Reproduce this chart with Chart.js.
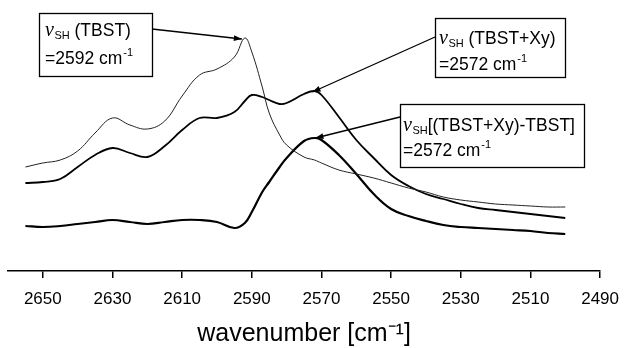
<!DOCTYPE html>
<html><head><meta charset="utf-8">
<script src="https://cdn.jsdelivr.net/npm/chart.js@4/dist/chart.umd.min.js"></script>
<style>html,body{margin:0;padding:0;background:#fff}</style>
</head><body>
<canvas id="c" width="630" height="348"></canvas>
<script>
// wavenumber (cm-1)
const wavenumbers = [2655,2650,2645,2640,2635,2630,2625,2620,2615,2610,2605,2600,2595,2592,2590,2587,2585,2582,2580,2575,2572,2570,2565,2560,2555,2550,2545,2540,2535,2530,2525,2520,2515,2510,2505,2500];
// absorbance (a.u.), TBST
const tbst = [1.04,1.08,1.11,1.20,1.38,1.53,1.46,1.42,1.50,1.75,1.96,2.02,2.14,2.33,2.19,1.84,1.58,1.36,1.26,1.14,1.11,1.08,1.01,0.97,0.93,0.88,0.83,0.79,0.74,0.71,0.69,0.67,0.66,0.65,0.64,0.64];
// absorbance (a.u.), TBST+Xy
const tbstXy = [0.88,0.89,0.92,1.04,1.16,1.23,1.18,1.14,1.25,1.41,1.53,1.53,1.59,1.70,1.76,1.74,1.71,1.67,1.68,1.77,1.80,1.76,1.54,1.31,1.13,0.96,0.85,0.77,0.72,0.67,0.63,0.61,0.59,0.57,0.55,0.53];
// difference (TBST+Xy)-TBST
const difference = [0.45,0.44,0.45,0.47,0.49,0.51,0.49,0.47,0.49,0.51,0.51,0.49,0.43,0.48,0.59,0.79,0.89,1.04,1.13,1.30,1.33,1.31,1.16,0.97,0.77,0.62,0.55,0.50,0.46,0.44,0.43,0.42,0.41,0.40,0.38,0.37];
const tickLabels = [2650,2630,2610,2590,2570,2550,2530,2510,2490];
const xTitle = 'wavenumber [cm\u207B\u00B9]';
const peakLabels = [
  {series:0, peak:2592, text1:' (TBST)', text2:'=2592 cm'},
  {series:1, peak:2572, text1:' (TBST+Xy)', text2:'=2572 cm'},
  {series:2, peak:2572, text1:'[(TBST+Xy)-TBST]', text2:'=2572 cm'}
];

// layout of annotation boxes (pixels)
const boxLayout = [
  {l:39,t:13,r:152,b:76, tx:45, b1:36, b2:64, from:[152,29], dx:-3, dy:1},
  {l:435,t:18,r:565,b:77, tx:439, b1:44, b2:70, from:[435,37], dx:-2, dy:1},
  {l:400,t:104,r:584,b:167, tx:403, b1:131, b2:156, from:[400,117], dx:1, dy:0}
];

const annoPlugin = {
  id:'anno',
  afterDatasetsDraw(chart){
    const ctx = chart.ctx, xs = chart.scales.x, ys = chart.scales.y;
    const series = [tbst, tbstXy, difference];
    ctx.save();
    peakLabels.forEach((p,i)=>{
      const L = boxLayout[i];
      const idx = wavenumbers.indexOf(p.peak);
      const tx = xs.getPixelForValue(p.peak) + L.dx;
      const ty = ys.getPixelForValue(series[p.series][idx]) + L.dy;
      ctx.fillStyle='#fff';
      ctx.fillRect(L.l, L.t, L.r-L.l, L.b-L.t);
      ctx.strokeStyle='#000'; ctx.lineWidth=1.3;
      ctx.strokeRect(L.l+0.5, L.t+0.5, L.r-L.l, L.b-L.t);
      const [fx,fy] = L.from;
      ctx.beginPath(); ctx.moveTo(fx,fy); ctx.lineTo(tx,ty); ctx.lineWidth=1.3; ctx.stroke();
      const ang = Math.atan2(ty-fy, tx-fx), hl=8, hw=3;
      ctx.beginPath();
      ctx.moveTo(tx,ty);
      ctx.lineTo(tx - hl*Math.cos(ang) + hw*Math.sin(ang), ty - hl*Math.sin(ang) - hw*Math.cos(ang));
      ctx.lineTo(tx - hl*Math.cos(ang) - hw*Math.sin(ang), ty - hl*Math.sin(ang) + hw*Math.cos(ang));
      ctx.closePath(); ctx.fillStyle='#000'; ctx.fill();
      ctx.fillStyle='#000'; ctx.textBaseline='alphabetic'; ctx.textAlign='left';
      let x = L.tx;
      ctx.font = 'italic 20px "Liberation Serif", "DejaVu Serif", serif';
      ctx.fillText('\u03BD', x, L.b1); x += ctx.measureText('\u03BD').width + 0.5;
      ctx.font = '11px "Liberation Sans", Arial, sans-serif';
      ctx.fillText('SH', x, L.b1+3); x += ctx.measureText('SH').width;
      ctx.font = '17.5px "Liberation Sans", Arial, sans-serif';
      ctx.fillText(p.text1, x, L.b1);
      x = L.tx;
      ctx.fillText(p.text2, x, L.b2); x += ctx.measureText(p.text2).width + 1;
      ctx.font = '11px "Liberation Sans", Arial, sans-serif';
      ctx.fillText('-1', x, L.b2-8);
    });
    ctx.restore();
  }
};

const mk = (arr)=> wavenumbers.map((w,i)=>({x:w, y:arr[i]}));
new Chart(document.getElementById('c'), {
  type:'line',
  data:{datasets:[
    {label:'TBST', data:mk(tbst), borderColor:'#222', borderWidth:1, pointRadius:0, tension:0.4, fill:false},
    {label:'TBST+Xy', data:mk(tbstXy), borderColor:'#000', borderWidth:1.8, pointRadius:0, tension:0.4, fill:false},
    {label:'(TBST+Xy)-TBST', data:mk(difference), borderColor:'#000', borderWidth:2.2, pointRadius:0, tension:0.4, fill:false}
  ]},
  options:{
    responsive:false, animation:false,
    layout:{padding:{left:8, right:21, top:0, bottom:0}},
    plugins:{legend:{display:false}, tooltip:{enabled:false}},
    scales:{
      x:{type:'linear', reverse:true, min:2490, max:2660,
        afterBuildTicks:(s)=>{ s.ticks = tickLabels.map(v=>({value:v})); },
        afterFit:(s)=>{ s.height = 77; },
        ticks:{autoSkip:false, maxRotation:0, padding:11, color:'#000',
          font:{family:'"Liberation Sans", Arial, sans-serif', size:17},
          callback:(v)=>String(v)},
        grid:{display:true, drawOnChartArea:false, drawTicks:true, tickLength:7, color:'#000', lineWidth:1.5},
        border:{display:true, color:'#000', width:1.5},
        title:{display:true, text:xTitle, color:'#000', padding:{top:0,bottom:1},
          font:{family:'"Liberation Sans", Arial, sans-serif', size:25, lineHeight:1}}
      },
      y:{display:false, min:0, max:2.71}
    }
  },
  plugins:[annoPlugin]
});
</script>
</body></html>
